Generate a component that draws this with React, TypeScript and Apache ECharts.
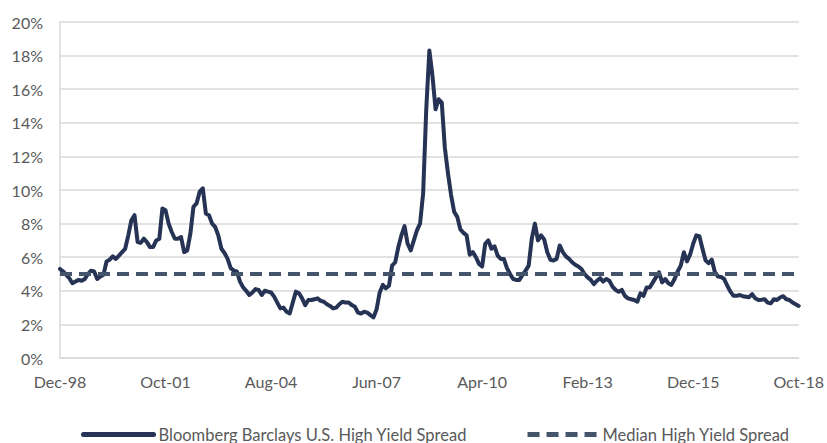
import React, { useEffect, useRef } from "react";
import * as echarts from "echarts";

// Monthly Bloomberg Barclays U.S. High Yield spread (%), Dec-98 .. Oct-18
const spread1999to2000 = [
  5.3, 5.15, 4.95, 4.75, 4.45, 4.55, 4.65, 4.6, 4.7, 5.0, 5.2, 5.15, 4.7,
  4.85, 4.95, 5.75, 5.85, 6.05, 5.9, 6.1, 6.3, 6.5, 7.3, 8.2, 8.5,
];
const spread2001to2003 = [
  6.9, 6.85, 7.1, 6.9, 6.6, 6.6, 7.0, 7.1, 8.9, 8.8, 8.0, 7.5,
  7.1, 7.1, 7.2, 6.3, 6.4, 7.4, 9.0, 9.2, 9.9, 10.1, 8.6, 8.5,
  8.0, 7.8, 7.3, 6.5, 6.25, 5.9, 5.35, 5.2, 5.15, 4.55, 4.2, 4.0,
];
const spread2004to2007 = [
  3.75, 3.9, 4.1, 4.05, 3.75, 4.0, 3.95, 3.9, 3.65, 3.3, 2.95, 3.0,
  2.75, 2.65, 3.3, 3.95, 3.85, 3.55, 3.15, 3.45, 3.45, 3.5, 3.55, 3.4,
  3.35, 3.2, 3.1, 2.95, 3.0, 3.2, 3.35, 3.3, 3.3, 3.15, 3.05, 2.7,
  2.65, 2.75, 2.7, 2.55, 2.42, 2.9, 3.9, 4.35, 4.15, 4.3, 5.5, 5.7,
];
const spread2008to2011 = [
  6.6, 7.3, 7.85, 6.8, 6.4, 7.0, 7.6, 8.0, 9.8, 14.8, 18.3, 16.8,
  14.8, 15.4, 15.2, 12.5, 11.0, 9.7, 8.7, 8.4, 7.65, 7.45, 7.3, 6.15,
  6.3, 6.0, 5.6, 5.45, 6.8, 7.0, 6.5, 6.65, 6.1, 5.9, 5.9, 5.35,
  5.0, 4.7, 4.65, 4.65, 4.95, 5.2, 5.5, 7.1, 8.0, 7.0, 7.3, 7.05,
];
const spread2012to2015 = [
  6.3, 5.85, 5.8, 5.9, 6.7, 6.3, 6.05, 5.9, 5.7, 5.55, 5.45, 5.3,
  5.0, 4.8, 4.65, 4.4, 4.6, 4.75, 4.55, 4.7, 4.6, 4.25, 4.05, 3.95,
  4.05, 3.7, 3.55, 3.5, 3.45, 3.35, 3.85, 3.7, 4.2, 4.2, 4.5, 4.8,
  5.1, 4.5, 4.7, 4.45, 4.35, 4.7, 5.15, 5.5, 6.3, 5.75, 6.15, 6.8,
];
const spread2016to2018 = [
  7.3, 7.25, 6.5, 5.8, 5.65, 5.85, 5.1, 4.85, 4.82, 4.7, 4.3, 3.95,
  3.7, 3.7, 3.75, 3.68, 3.65, 3.62, 3.8, 3.55, 3.45, 3.47, 3.5, 3.3,
  3.25, 3.5, 3.45, 3.6, 3.68, 3.5, 3.45, 3.3, 3.2, 3.1,
];
const medianSpread = 5.0;

const seriesNames = ["Bloomberg Barclays U.S. High Yield Spread", "Median High Yield Spread"];
const monthNames = ["Jan", "Feb", "Mar", "Apr", "May", "Jun", "Jul", "Aug", "Sep", "Oct", "Nov", "Dec"];
const startYear = 1998;
const startMonth = 11; // December

const spreadValues = [
  ...spread1999to2000,
  ...spread2001to2003,
  ...spread2004to2007,
  ...spread2008to2011,
  ...spread2012to2015,
  ...spread2016to2018,
];

const categories: string[] = spreadValues.map((_, i) => {
  const m = (startMonth + i) % 12;
  const y = startYear + Math.floor((startMonth + i) / 12);
  return `${monthNames[m]}-${String(y % 100).padStart(2, "0")}`;
});
const medianValues = categories.map(() => medianSpread);

const FONT = "Lato";

export default function App() {
  const ref = useRef<HTMLDivElement>(null);
  useEffect(() => {
    document.body.style.margin = "0";
    const chart = echarts.init(ref.current!, null, { renderer: "svg" });
    chart.setOption({
      animation: false,
      backgroundColor: "#ffffff",
      grid: { left: 60, right: 26, top: 22, bottom: 85 },
      legend: {
        left: 76,
        top: 421,
        itemWidth: 70,
        itemHeight: 14,
        itemGap: 58,
        itemStyle: { opacity: 0 },
        lineStyle: { width: 5 },
        textStyle: { fontFamily: FONT, fontSize: 16.5, color: "#595959", padding: [0, 0, 0, 0] },
        data: seriesNames,
      },
      xAxis: {
        type: "category",
        data: categories,
        boundaryGap: false,
        axisLine: { show: true, lineStyle: { color: "#D9D9D9", width: 1.5 } },
        axisTick: { show: false },
        axisLabel: {
          interval: 33,
          color: "#595959",
          fontFamily: FONT,
          fontSize: 16,
          margin: 15,
        },
        splitLine: { show: false },
      },
      yAxis: {
        type: "value",
        min: 0,
        max: 20,
        interval: 2,
        axisLine: { show: true, lineStyle: { color: "#D9D9D9", width: 1.5 } },
        axisTick: { show: false },
        axisLabel: {
          formatter: "{value}%",
          color: "#595959",
          fontFamily: FONT,
          fontSize: 16,
          margin: 17,
        },
        splitLine: { show: true, lineStyle: { color: "#D9D9D9", width: 1.5 } },
      },
      series: [
        {
          name: seriesNames[0],
          type: "line",
          data: spreadValues,
          symbol: "none",
          lineStyle: { color: "#263354", width: 4, join: "round", cap: "round" },
          itemStyle: { color: "#263354" },
          z: 2,
        },
        {
          name: seriesNames[1],
          type: "line",
          data: medianValues,
          symbol: "none",
          lineStyle: { color: "#44546A", width: 4, type: [12, 7] },
          itemStyle: { color: "#44546A" },
          z: 3,
        },
      ],
    });
    return () => chart.dispose();
  }, []);
  return <div ref={ref} style={{ width: 827, height: 443 }} />;
}
